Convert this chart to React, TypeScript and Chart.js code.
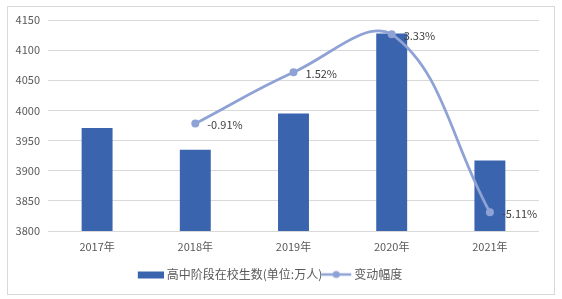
import React, { useEffect, useRef } from "react";
import { Chart, registerables } from "chart.js";

Chart.register(...registerables);

// ---- data ----
const categories = ["2017年", "2018年", "2019年", "2020年", "2021年"];
const enrollment = [3970.99, 3934.67, 3994.9, 4127.8, 3916.97];
const changeRate: (number | null)[] = [null, -0.91, 1.52, 3.33, -5.11];
const barLabel = "高中阶段在校生数(单位:万人)";
const lineLabel = "变动幅度";
const yMin = 3800;
const yMax = 4150;
const yStep = 50;
const rateMin = -6;
const rateMax = 4;

// ---- styles ----
const FONT = "'Noto Sans CJK SC', 'Noto Sans', sans-serif";
const BAR_COLOR = "#3A64AE";
const LINE_COLOR = "#8FA2D6";
const GRID_COLOR = "#D9D9D9";
const TICK_COLOR = "#595959";
const LABEL_COLOR = "#404040";

function makeBarIcon(): HTMLCanvasElement {
  const c = document.createElement("canvas");
  c.width = 30;
  c.height = 14;
  const ctx = c.getContext("2d")!;
  ctx.fillStyle = BAR_COLOR;
  ctx.fillRect(4, 4, 26, 7);
  return c;
}

function makeLineIcon(): HTMLCanvasElement {
  const c = document.createElement("canvas");
  c.width = 32;
  c.height = 14;
  const ctx = c.getContext("2d")!;
  ctx.strokeStyle = LINE_COLOR;
  ctx.lineWidth = 2.5;
  ctx.beginPath();
  ctx.moveTo(1, 7);
  ctx.lineTo(31, 7);
  ctx.stroke();
  ctx.fillStyle = LINE_COLOR;
  ctx.beginPath();
  ctx.arc(16, 7, 3.6, 0, Math.PI * 2);
  ctx.fill();
  return c;
}

const framePlugin = {
  id: "frame",
  beforeDraw(chart: any) {
    const ctx = chart.ctx;
    ctx.save();
    ctx.fillStyle = "#FFFFFF";
    ctx.fillRect(0, 0, chart.width, chart.height);
    ctx.strokeStyle = GRID_COLOR;
    ctx.lineWidth = 1;
    ctx.strokeRect(7.5, 6.5, 547, 288);
    ctx.restore();
  },
};

const valueLabelPlugin = {
  id: "valueLabels",
  afterDatasetsDraw(chart: any) {
    const ctx = chart.ctx;
    const meta = chart.getDatasetMeta(1);
    const data = chart.data.datasets[1].data;
    ctx.save();
    ctx.font = `11px ${FONT}`;
    ctx.fillStyle = LABEL_COLOR;
    ctx.textAlign = "left";
    ctx.textBaseline = "middle";
    meta.data.forEach((pt: any, i: number) => {
      const v = data[i];
      if (v === null || v === undefined) return;
      ctx.fillText(`${Number(v).toFixed(2)}%`, pt.x + 12, pt.y + 1.5);
    });
    ctx.restore();
  },
};

export default function App() {
  const ref = useRef<HTMLCanvasElement | null>(null);

  useEffect(() => {
    if (!ref.current) return;
    const barIcon = makeBarIcon();
    const lineIcon = makeLineIcon();
    const chart = new Chart(ref.current, {
      type: "bar",
      data: {
        labels: categories,
        datasets: [
          {
            type: "bar",
            label: barLabel,
            data: enrollment,
            backgroundColor: BAR_COLOR,
            yAxisID: "y",
            barPercentage: 0.315,
            categoryPercentage: 1,
            order: 1,
          },
          {
            type: "line",
            label: lineLabel,
            data: changeRate,
            borderColor: LINE_COLOR,
            backgroundColor: LINE_COLOR,
            borderWidth: 2.75,
            pointRadius: 4,
            pointBackgroundColor: LINE_COLOR,
            pointBorderWidth: 0,
            tension: 0.4,
            yAxisID: "y1",
            order: 0,
          } as any,
        ],
      },
      options: {
        responsive: false,
        animation: false,
        layout: { padding: { left: 0, right: 23, top: 20, bottom: 8.5 } },
        plugins: {
          tooltip: { enabled: false },
          legend: {
            position: "bottom",
            labels: {
              usePointStyle: true,
              pointStyleWidth: 24,
              padding: 2,
              color: TICK_COLOR,
              font: { family: FONT, size: 12 },
              generateLabels: () => [
                { text: barLabel, pointStyle: barIcon as any, fillStyle: BAR_COLOR, strokeStyle: BAR_COLOR, lineWidth: 0, datasetIndex: 0, fontColor: TICK_COLOR } as any,
                { text: lineLabel, pointStyle: lineIcon as any, fillStyle: LINE_COLOR, strokeStyle: LINE_COLOR, lineWidth: 0, datasetIndex: 1, fontColor: TICK_COLOR } as any,
              ],
            },
          },
        },
        scales: {
          x: {
            grid: { display: false, drawTicks: false },
            border: { display: false },
            ticks: { color: TICK_COLOR, font: { family: FONT, size: 11 }, padding: 9, maxRotation: 0 },
            afterFit: (s: any) => {
              s.height = 35.5;
            },
          },
          y: {
            min: yMin,
            max: yMax,
            position: "left",
            grid: { color: GRID_COLOR, drawTicks: false, lineWidth: 1 },
            border: { display: false },
            ticks: {
              stepSize: yStep,
              color: TICK_COLOR,
              font: { family: FONT, size: 11 },
              padding: 8,
              callback: (v: any) => String(v),
            },
            afterFit: (s: any) => {
              s.width = 48;
            },
          },
          y1: {
            min: rateMin,
            max: rateMax,
            display: false,
            grid: { display: false },
          },
        },
      },
      plugins: [framePlugin, valueLabelPlugin],
    });
    return () => chart.destroy();
  }, []);

  return (
    <div style={{ position: "absolute", left: 0, top: 0, width: 562, height: 299 }}>
      <canvas ref={ref} width={562} height={299} style={{ display: "block" }} />
    </div>
  );
}
